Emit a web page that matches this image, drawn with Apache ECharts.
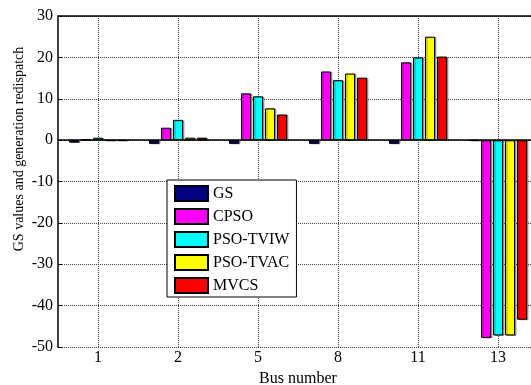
<!DOCTYPE html>
<html>
<head>
<meta charset="utf-8">
<script src="https://cdn.jsdelivr.net/npm/echarts@6/dist/echarts.min.js"></script>
<style>
	html, body { margin: 0; padding: 0; background: #fff; }
	#chart { width: 531px; height: 385px; }
</style>
</head>
<body>
<div id="chart"></div>
<script>
const buses = ['1', '2', '5', '8', '11', '13'];
const gs = [-0.6, -0.9, -0.9, -0.9, -0.9, -0.1];
const cpso = [0.2, 3.0, 11.3, 16.6, 18.8, -47.8];
const psoTviw = [0.6, 4.9, 10.6, 14.5, 20.0, -47.2];
const psoTvac = [-0.1, 0.6, 7.7, 16.1, 25.0, -47.2];
const mvcs = [-0.1, 0.6, 6.2, 15.1, 20.2, -43.4];

const FONT = "'Liberation Serif', 'Times New Roman', serif";

function bar(name, data, color) {
	return {
		name,
		type: 'bar',
		data,
		barWidth: 10,
		barGap: '20%',
		itemStyle: {
			color,
			borderColor: '#000',
			borderWidth: 1,
			shadowColor: 'rgba(0, 0, 0, 0.35)',
			shadowOffsetX: 1.5,
			shadowOffsetY: 0.5,
		},
	};
}

const chart = echarts.init(document.getElementById('chart'), null, { renderer: 'canvas' });

chart.setOption({
	animation: false,
	textStyle: { fontFamily: FONT },
	grid: { left: 58, top: 16, right: -7, bottom: 38, outerBoundsMode: 'none', containLabel: false },
	legend: {
		orient: 'vertical',
		left: 167,
		top: 180,
		padding: [5, 7, 3, 7],
		icon: 'rect',
		itemWidth: 33,
		itemHeight: 15,
		itemGap: 6,
		backgroundColor: '#fff',
		borderColor: '#000',
		borderWidth: 1,
		borderRadius: 0,
		textStyle: { fontFamily: FONT, fontSize: 16, color: '#000', lineHeight: 15 },
		data: ['GS', 'CPSO', 'PSO-TVIW', 'PSO-TVAC', 'MVCS'],
	},
	xAxis: [
		{
			type: 'category',
			data: buses,
			position: 'bottom',
			name: 'Bus number',
			nameLocation: 'middle',
			nameGap: 19,
			nameTextStyle: { fontFamily: FONT, fontSize: 16, color: '#000' },
			axisLine: { lineStyle: { color: '#000', width: 1.5 } },
			axisTick: { inside: true, alignWithLabel: true, length: 4, lineStyle: { color: '#000' } },
			axisLabel: { fontFamily: FONT, fontSize: 16, color: '#000', margin: 3 },
			splitLine: {
				show: true,
				alignWithLabel: true,
				lineStyle: { color: '#444', type: [1, 1], width: 1 },
			},
		},
		{
			type: 'category',
			data: buses,
			position: 'top',
			axisLine: { lineStyle: { color: '#000', width: 1.5 } },
			axisTick: { inside: true, alignWithLabel: true, length: 4, lineStyle: { color: '#000' } },
			axisLabel: { show: false },
			splitLine: { show: false },
		},
	],
	yAxis: {
		type: 'value',
		min: -50,
		max: 30,
		interval: 10,
		axisLine: { show: true, lineStyle: { color: '#000', width: 1.5 } },
		axisTick: { show: true, inside: true, length: 4, lineStyle: { color: '#000' } },
		axisLabel: { fontFamily: FONT, fontSize: 16, color: '#000', margin: 5 },
		splitLine: { lineStyle: { color: '#444', type: [1, 1], width: 1 } },
	},
	graphic: [
		{
			type: 'text',
			x: 19,
			y: 149,
			rotation: Math.PI / 2,
			style: {
				text: 'GS values and generation redispatch',
				font: "14px 'Liberation Serif', 'Times New Roman', serif",
				fill: '#000',
				align: 'center',
				verticalAlign: 'middle',
			},
		},
	],
	series: [
		bar('GS', gs, '#000080'),
		bar('CPSO', cpso, '#ff00ff'),
		bar('PSO-TVIW', psoTviw, '#00ffff'),
		bar('PSO-TVAC', psoTvac, '#ffff00'),
		bar('MVCS', mvcs, '#ff0000'),
	],
});
</script>
</body>
</html>
